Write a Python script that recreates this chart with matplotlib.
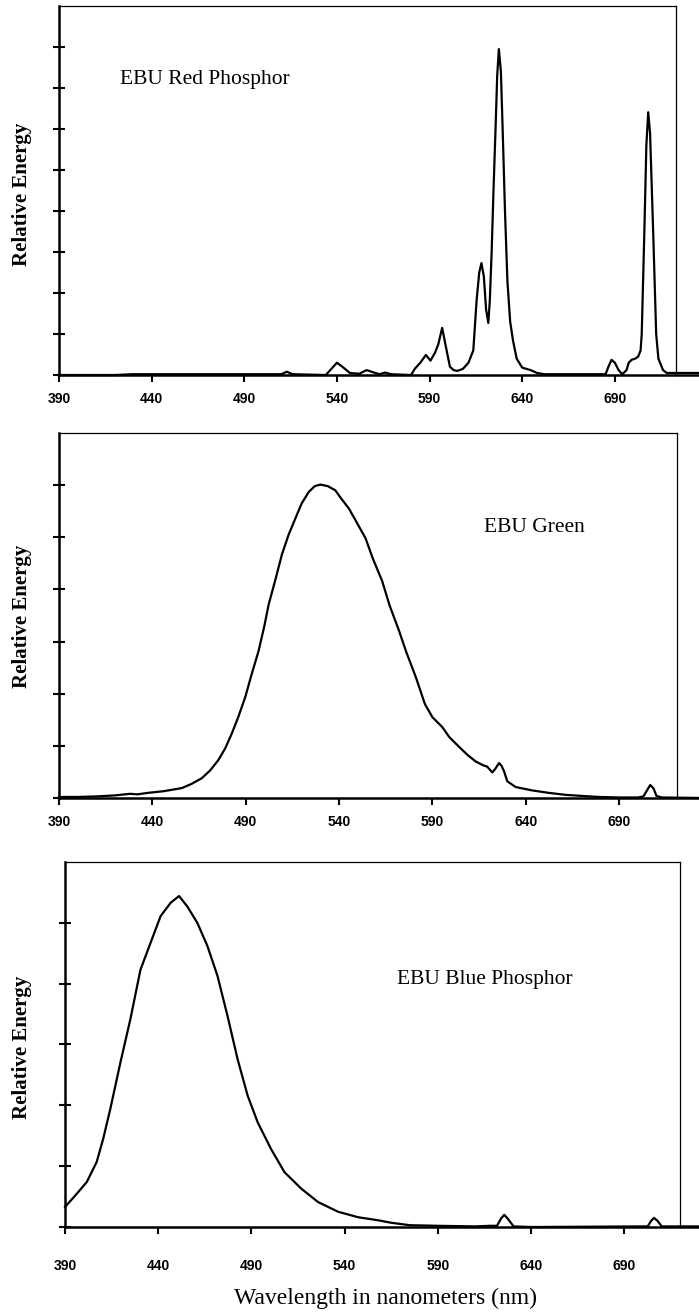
import matplotlib
matplotlib.use('Agg')
import matplotlib.pyplot as plt

# wavelength (nm) / relative energy
red_nm = [390, 420, 430, 440, 470, 500, 510, 513, 516, 534, 537, 540, 543, 547,
          552, 556, 560, 563, 566, 569, 580, 582, 585, 588, 590.5, 593, 594.7,
          596.8, 599.2, 601, 603, 605, 608, 611, 613.6, 615.4, 616.8, 618, 619.3,
          620.5, 621.7, 622.5, 623.5, 624.5, 625.6, 626.5, 627.4, 628.5, 629.5,
          630.7, 632, 633.5, 635, 637, 640, 644.5, 648, 652, 685, 686.5, 688.2,
          690, 692, 694, 696.3, 697.5, 699, 701, 702.6, 703.9, 704.5, 705.9, 707,
          708, 709, 710.7, 712.3, 713.5, 716, 718, 722, 735]
red_val = [0, 0, 0.02, 0.02, 0.02, 0.02, 0.02, 0.08, 0.02, 0.0, 0.15, 0.3, 0.2, 0.05,
           0.03, 0.12, 0.06, 0.02, 0.06, 0.02, 0.0, 0.15, 0.3, 0.49, 0.35, 0.55, 0.75,
           1.15, 0.6, 0.2, 0.12, 0.1, 0.15, 0.3, 0.6, 1.83, 2.5, 2.73, 2.4,
           1.6, 1.27, 1.8, 3.0, 4.5, 6.0, 7.3, 7.95, 7.4, 5.9,
           4.0, 2.3, 1.3, 0.85, 0.4, 0.18, 0.12, 0.05, 0.02, 0.02, 0.2, 0.37,
           0.3, 0.12, 0.02, 0.12, 0.3, 0.37, 0.4, 0.45, 0.6, 1.0, 3.46, 5.6,
           6.41, 5.9, 3.46, 1.0, 0.4, 0.12, 0.05, 0.05, 0.05]

green_nm = [390, 400, 410, 420, 428, 432, 438, 446, 455.8, 461, 466.5, 471, 475.4,
            479, 482.6, 486, 489.8, 493, 496.9, 500, 502.3, 506, 509.4, 513, 516.6,
            520, 523.8, 527, 530, 534, 538, 541, 545.3, 550, 554.2, 558, 563.1,
            567, 572.1, 576, 581.1, 586, 590, 595.3, 599, 604.3, 609, 613.2, 617,
            619.4, 622.1, 623.5, 625.7, 627, 628.4, 630.1, 634.6, 643.5, 652,
            661.4, 670, 679.2, 690, 700, 703, 705, 706.7, 708.5, 710, 713, 735]
green_val = [0.02, 0.02, 0.03, 0.05, 0.08, 0.07, 0.1, 0.13, 0.19, 0.27, 0.38, 0.53, 0.73,
             0.95, 1.24, 1.55, 1.94, 2.35, 2.82, 3.3, 3.71, 4.2, 4.67, 5.05, 5.36,
             5.65, 5.87, 5.98, 6.01, 5.98, 5.9, 5.75, 5.55, 5.25, 4.98, 4.6, 4.16,
             3.7, 3.21, 2.8, 2.32, 1.8, 1.55, 1.36, 1.17, 0.98, 0.82, 0.7, 0.63,
             0.6, 0.49, 0.55, 0.67, 0.62, 0.51, 0.32, 0.21, 0.145, 0.1,
             0.06, 0.04, 0.02, 0.01, 0.01, 0.03, 0.15, 0.25, 0.18, 0.04, 0.01, 0.0]

blue_nm = [390, 395, 401.7, 407, 410.5, 414.3, 419.7, 425.1, 430.5, 435.9, 441.3,
           446.7, 451.2, 455.6, 461, 466.4, 471.8, 477.2, 482.6, 488, 493.4, 500.6,
           507.8, 516.8, 525.8, 536.6, 547.4, 558.2, 565, 575, 590, 610, 618, 621.8,
           624, 625.7, 627.5, 630.7, 640, 700, 702.7, 704.5, 706, 708, 710.2, 735]
blue_val = [0.33, 0.5, 0.74, 1.07, 1.45, 1.94, 2.7, 3.42, 4.23, 4.67, 5.11,
            5.33, 5.44, 5.27, 5.0, 4.62, 4.13, 3.47, 2.76, 2.16, 1.72, 1.28,
            0.9, 0.63, 0.41, 0.25, 0.16, 0.11, 0.07, 0.03, 0.02, 0.01, 0.02, 0.02,
            0.14, 0.2, 0.14, 0.01, 0.0, 0.01, 0.01, 0.1, 0.15, 0.1, 0.01, 0.01]

xticks = [390, 440, 490, 540, 590, 640, 690]
titles = ['EBU Red Phosphor', 'EBU Green', 'EBU Blue Phosphor']

serif = ['Liberation Serif', 'DejaVu Serif']
sans = ['Liberation Sans', 'DejaVu Sans']


def draw_panel(ax, nm, val, ymax, xmax, title, tx, ty, label_pad):
    ax.plot(nm, val, color='black', lw=1.6, clip_on=False, zorder=3)
    # baseline runs on past the right frame
    ax.plot([390, 735], [0, 0], color='black', lw=1.8, clip_on=False, zorder=2)
    ax.set_xlim(390, xmax)
    ax.set_ylim(0, ymax)
    ax.spines['bottom'].set_visible(False)
    ax.spines['left'].set_linewidth(1.8)
    ax.spines['top'].set_linewidth(0.9)
    ax.spines['right'].set_linewidth(0.9)
    ax.set_xticks(xticks)
    ax.set_xticklabels([str(t) for t in xticks], family=sans, fontsize=10,
                       fontweight='bold')
    ax.set_yticks(range(0, ymax))
    ax.set_yticklabels([])
    ax.tick_params(axis='x', direction='out', length=5, width=1.5, pad=label_pad)
    ax.tick_params(axis='y', direction='inout', length=8, width=1.5)
    ax.text(tx, ty, title, transform=ax.transAxes, family=serif, fontsize=15.5,
            ha='left', va='center')


fig = plt.figure(figsize=(6.99, 13.14), dpi=100)
ax1 = fig.add_axes([0.0844, 0.7146, 0.8827, 0.2808])
ax2 = fig.add_axes([0.0844, 0.3927, 0.8841, 0.2778])
ax3 = fig.add_axes([0.0930, 0.0662, 0.8798, 0.2778])

draw_panel(ax1, red_nm, red_val, 9, 723, titles[0], 0.0995, 0.80, 7)
draw_panel(ax2, green_nm, green_val, 7, 721, titles[1], 0.687, 0.742, 7)
draw_panel(ax3, blue_nm, blue_val, 6, 720, titles[2], 0.5395, 0.677, 18)

for yc in [194, 616, 1047]:
    fig.text(22 / 699, 1 - yc / 1314, 'Relative Energy', rotation=90, family=serif,
             fontsize=15, fontweight='bold', ha='center', va='center')

fig.text(386 / 699, 1 - 1298 / 1314, 'Wavelength in nanometers (nm)', family=serif,
         fontsize=17, ha='center', va='center')

fig.savefig('out.png', dpi=100)
